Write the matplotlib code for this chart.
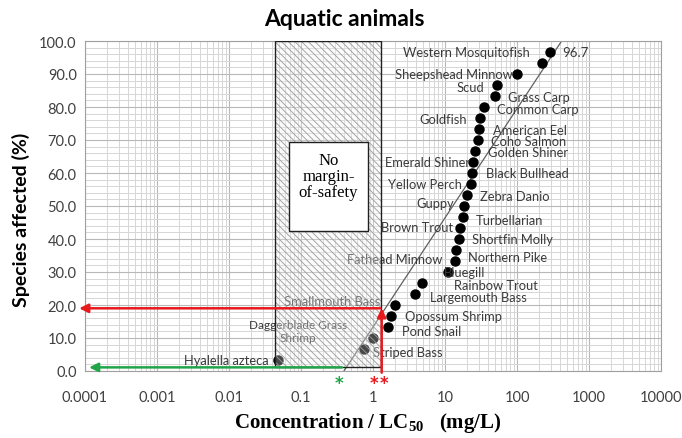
import numpy as np
import matplotlib
matplotlib.use('Agg')
import matplotlib.pyplot as plt
from matplotlib.patches import Rectangle
from matplotlib.ticker import FixedLocator, FuncFormatter

# Datos
especies = ['Hyalella azteca', 'Striped Bass', 'Daggerblade Grass\nShrimp', 'Pond Snail',
            'Opossum Shrimp', 'Smallmouth Bass', 'Largemouth Bass', 'Rainbow Trout',
            'Bluegill', 'Fathead Minnow', 'Northern Pike', 'Shortfin Molly', 'Brown Trout',
            'Turbellarian', 'Guppy', 'Zebra Danio', 'Yellow Perch', 'Black Bullhead',
            'Emerald Shiner', 'Golden Shiner', 'Coho Salmon', 'American Eel', 'Goldfish',
            'Common Carp', 'Grass Carp', 'Scud', 'Sheepshead Minnow', '',
            'Western Mosquitofish']
conc = [0.0474, 0.75, 1.01, 1.63, 1.78, 2.02, 3.83, 4.84, 10.9, 13.8, 14.1, 15.6, 16.4,
        17.6, 18.4, 20.4, 23.0, 23.5, 24.3, 26.1, 29.0, 29.6, 30.6, 34.8, 49.5, 52.2,
        100, 222, 287]
afectadas = [3.33, 6.67, 10.0, 13.33, 16.67, 20.0, 23.33, 26.67, 30.0, 33.33, 36.67, 40.0,
             43.33, 46.67, 50.0, 53.33, 56.67, 60.0, 63.33, 66.67, 70.0, 73.33, 76.67,
             80.0, 83.33, 86.67, 90.0, 93.33, 96.67]

# posicion de cada etiqueta respecto al punto (pixeles) y alineacion
etq_dx = [-9, 9, -75, 14, 14, -15, 15, 32, -4, -13, 12, 13, -7, 13, -10, 13, -9, 14,
          -3, 13, 13, 14, -13, 13, 13, -13, -4, 0, -20]
etq_dy = [0, -3, 7, -4, 0, 4, -3, -2, 0, 2, -7, 0, 1, -3, 3, -1, 0, 0, 0, -1, -1, -1,
          -1, -2, -1, -2, 0, 0, 0]
etq_ha = ['right', 'left', 'center', 'left', 'left', 'right', 'left', 'left', 'left',
          'right', 'left', 'left', 'right', 'left', 'right', 'left', 'right', 'left',
          'right', 'left', 'left', 'left', 'right', 'left', 'left', 'right', 'right',
          'left', 'right']

linea_x = [0.395, 417]
linea_y = [0, 100]

caja_x = [0.0435, 1.29]
caja_y = [1.3, 100]
nota_x = [0.068, 0.853]
nota_y = [42.4, 69.4]

rojo_x, rojo_y, rojo_fin = 1.32, 19.0, 8.3e-5
verde_x, verde_y, verde_fin = 0.37, 1.1, 1.14e-4
ast_rojo = [1.04, 1.44]
ast_verde = [0.34]

xticks = [1e-4, 1e-3, 1e-2, 1e-1, 1, 10, 100, 1000, 10000]

# Grafico
plt.rcParams['font.family'] = ['Lato', 'DejaVu Sans']
plt.rcParams['mathtext.fontset'] = 'custom'
plt.rcParams['mathtext.rm'] = 'Liberation Serif'
plt.rcParams['mathtext.bf'] = 'Liberation Serif:bold'
plt.rcParams['hatch.linewidth'] = 0.6

fig = plt.figure(figsize=(6.82, 4.39), dpi=100)
ax = fig.add_axes([85 / 682, 67 / 439, 576 / 682, 330 / 439])
ax.set_xscale('log')
ax.set_xlim(1e-4, 1e4)
ax.set_ylim(0, 100)

ax.xaxis.set_major_locator(FixedLocator(xticks))
ax.xaxis.set_major_formatter(FuncFormatter(lambda v, p: '{:g}'.format(v)))
ax.xaxis.set_minor_locator(FixedLocator([m * d for d in xticks[:-1] for m in range(2, 10)]))
ax.xaxis.set_minor_formatter(FuncFormatter(lambda v, p: ''))
ax.set_yticks(np.arange(0, 101, 10))
ax.set_yticks(np.arange(0, 101, 2), minor=True)
ax.yaxis.set_major_formatter(FuncFormatter(lambda v, p: '%.1f' % v))
ax.tick_params(which='both', length=0, labelsize=10.5, labelcolor='#404040')
ax.tick_params(axis='x', pad=14)
ax.tick_params(axis='y', pad=6)
ax.grid(True, which='major', color='#b8b8b8', lw=0.8)
ax.grid(True, which='minor', color='#d6d6d6', lw=0.7)
ax.set_axisbelow(True)
for s in ax.spines.values():
    s.set_color('#a0a0a0')
    s.set_linewidth(0.8)

ax.plot(linea_x, linea_y, color='#606060', lw=0.9, zorder=2)
ax.plot(conc, afectadas, 'o', color='black', ms=6.5, zorder=3)

for x, y, t, dx, dy, ha in zip(conc, afectadas, especies, etq_dx, etq_dy, etq_ha):
    if not t:
        continue
    chico = '\n' in t
    ax.annotate(t, (x, y), xytext=(dx, dy), textcoords='offset pixels', ha=ha,
                va='center', fontsize=8.5 if chico else 9.3, color='#3a3a3a',
                linespacing=1.3, zorder=3)
ax.annotate('96.7', (conc[-1], afectadas[-1]), xytext=(12, 0), textcoords='offset pixels',
            ha='left', va='center', fontsize=9.5, color='#3a3a3a', zorder=3)

# caja sombreada
ax.add_patch(Rectangle((caja_x[0], caja_y[0]), caja_x[1] - caja_x[0], caja_y[1] - caja_y[0],
                       facecolor=(0.95, 0.95, 0.95, 0.3), edgecolor='#9a9a9a', lw=0,
                       hatch='\\\\\\\\\\', zorder=4))
ax.add_patch(Rectangle((caja_x[0], caja_y[0]), caja_x[1] - caja_x[0], caja_y[1] - caja_y[0],
                       facecolor='none', edgecolor='#202020', lw=1.0, zorder=5))
ax.add_patch(Rectangle((nota_x[0], nota_y[0]), nota_x[1] - nota_x[0], nota_y[1] - nota_y[0],
                       facecolor='white', edgecolor='#202020', lw=1.0, zorder=6))
ax.text(np.sqrt(nota_x[0] * nota_x[1]), 59.0, 'No\nmargin-\nof-safety',
        ha='center', va='center', fontsize=12, family='Liberation Serif',
        linespacing=1.0, zorder=7)

# flechas
ax.annotate('', xy=(rojo_fin, rojo_y), xytext=(rojo_x - 0.05, rojo_y), annotation_clip=False,
            arrowprops=dict(arrowstyle='-|>', color='#e8191d', lw=1.8,
                            mutation_scale=13, shrinkA=0, shrinkB=0), zorder=8)
ax.annotate('', xy=(rojo_x, rojo_y), xytext=(rojo_x, -0.5), annotation_clip=False,
            arrowprops=dict(arrowstyle='-|>', color='#e8191d', lw=1.8,
                            mutation_scale=13, shrinkA=0, shrinkB=0), zorder=8)
ax.annotate('', xy=(verde_fin, verde_y), xytext=(verde_x, verde_y), annotation_clip=False,
            arrowprops=dict(arrowstyle='-|>', color='#21a548', lw=1.8,
                            mutation_scale=13, shrinkA=0, shrinkB=0), zorder=8)
for x in ast_rojo:
    ax.annotate('*', (x, 0), xytext=(0, -12), textcoords='offset pixels', ha='center',
                va='center', fontsize=12, fontweight='bold', color='#e8191d',
                annotation_clip=False, family='DejaVu Sans')
for x in ast_verde:
    ax.annotate('*', (x, 0), xytext=(0, -12), textcoords='offset pixels', ha='center',
                va='center', fontsize=12, fontweight='bold', color='#21a548',
                annotation_clip=False, family='DejaVu Sans')

fig.text(344 / 682, 1 - 20 / 439, 'Aquatic animals', ha='center', va='center',
         fontsize=16.5, fontweight='bold')
fig.text(21 / 682, 0.5, 'Species affected (%)', rotation=90, ha='center', va='center',
         fontsize=14, fontweight='bold')
fig.text(368 / 682, 1 - 423 / 439, r'Concentration / LC$_{\mathbf{50}}$   (mg/L)',
         ha='center', va='center', fontsize=15, fontweight='bold',
         family='Liberation Serif')

fig.savefig('out.png', dpi=100)
